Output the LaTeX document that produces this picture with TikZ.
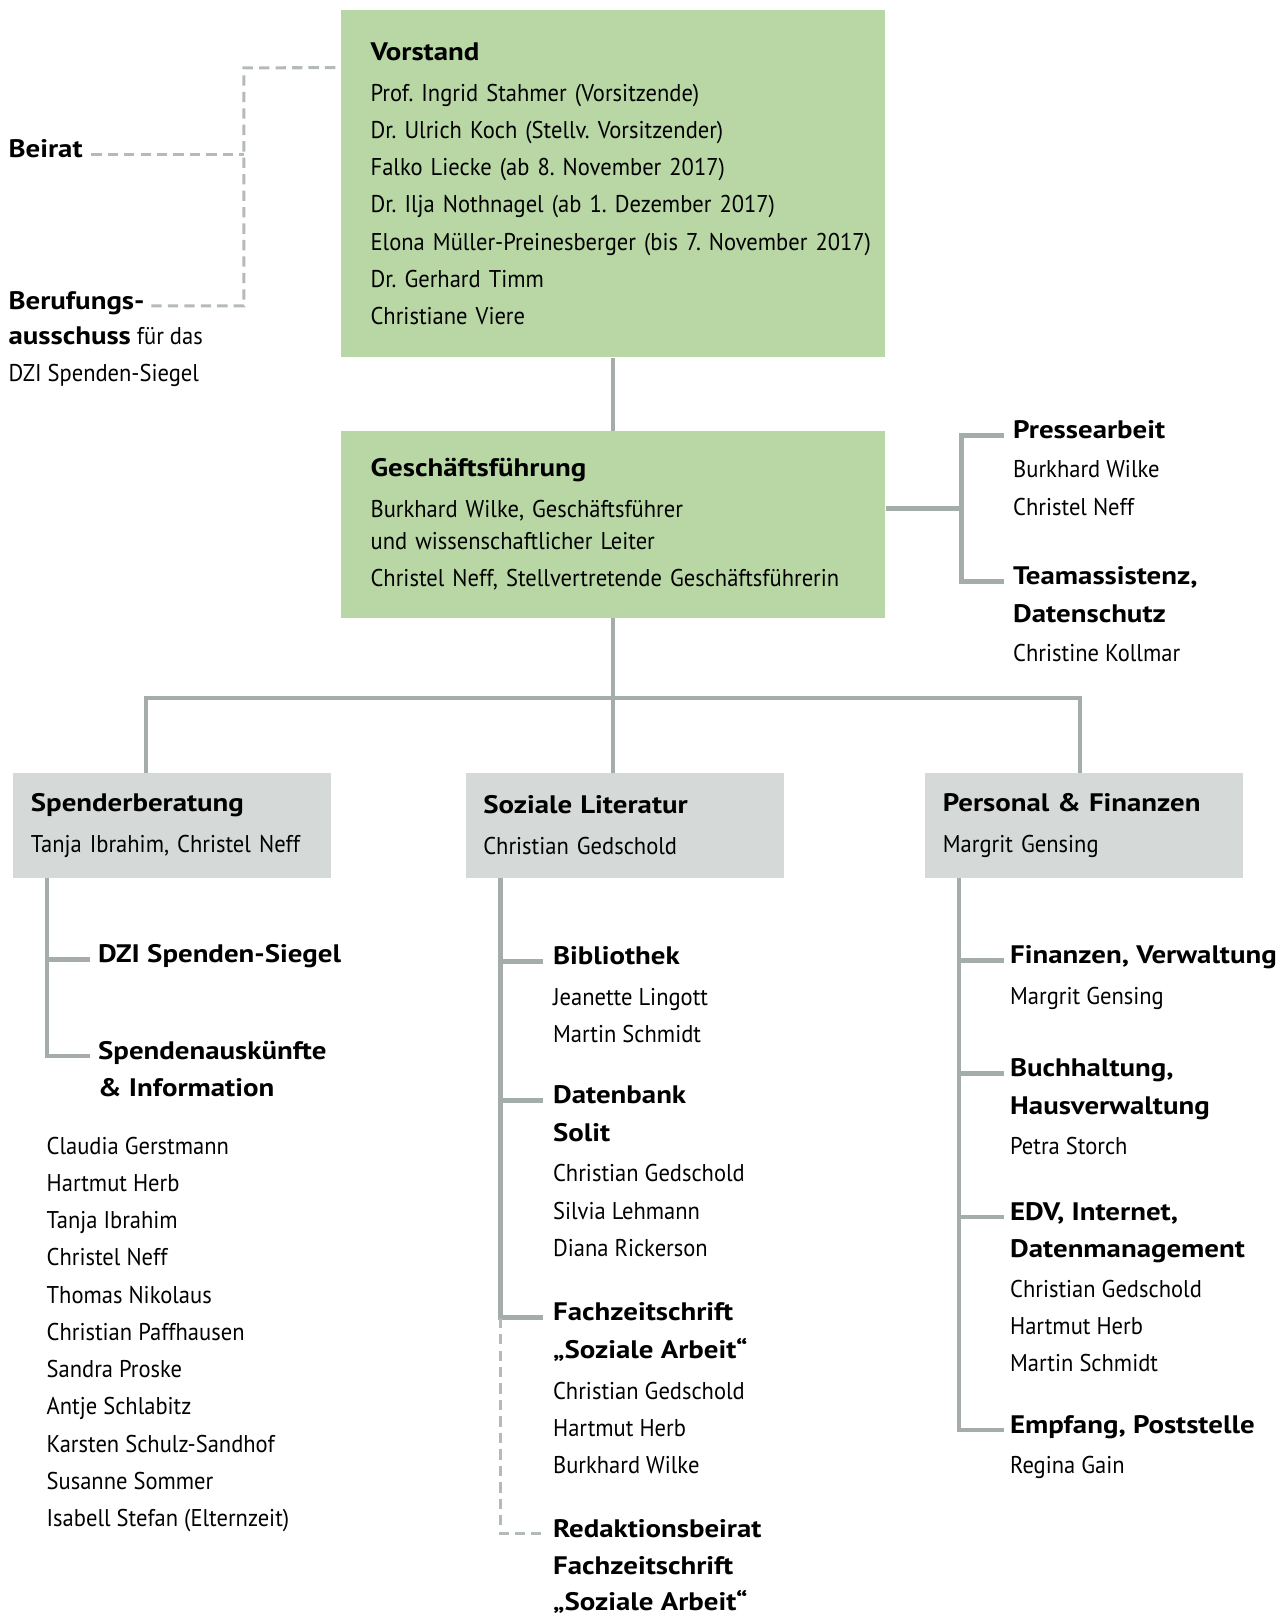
\documentclass[tikz,border=0pt]{standalone}
\usepackage{fontspec}
\setmainfont{PT Sans}[FakeStretch=0.93]
\newfontfamily\hdfont{PT Sans}[FakeStretch=1.14]
\usepackage{tikz}
\definecolor{vgreen}{HTML}{B8D7A4}
\definecolor{ugrey}{HTML}{D5D9D7}
\definecolor{lgrey}{HTML}{A4ADAA}
\definecolor{dgrey}{HTML}{B3BAB7}
\frenchspacing
\newcommand\orgfont{\fontsize{13.4pt}{20.6pt}\selectfont}
\newcommand\hd[1]{{\hdfont\bfseries\fontsize{14pt}{20.6pt}\selectfont #1}}
\tikzset{
  gbox/.style={fill=vgreen,align=left,font=\orgfont,inner xsep=0.58cm,text width=9.42cm},
  ubox/.style={fill=ugrey,align=left,font=\orgfont,inner xsep=0.34cm,text width=5.5cm,minimum height=2.04cm},
  txt/.style={anchor=north west,align=left,inner sep=0pt,font=\orgfont},
  con/.style={draw=lgrey,line width=2.5pt},
  dcon/.style={draw=dgrey,line width=1.7pt,dash pattern=on 5.7pt off 3.4pt}}

\begin{document}
\begin{tikzpicture}[x=0.02cm,y=-0.02cm]
\useasboundingbox (0,0) rectangle (1247,1568);
% Leitung
\node[gbox,minimum height=6.74cm] (vorstand) at (595.5,178.5) {\hd{Vorstand}\\[2pt]
  Prof. Ingrid Stahmer (Vorsitzende)\\Dr. Ulrich Koch (Stellv. Vorsitzender)\\
  Falko Liecke (ab 8. November 2017)\\Dr. Ilja Nothnagel (ab 1. Dezember 2017)\\
  \mbox{Elona Müller-Preinesberger (bis 7. November 2017)}\\Dr. Gerhard Timm\\Christiane Viere};
\node[gbox,minimum height=3.62cm] (gf) at (595.5,509.5) {\hd{Geschäftsführung}\\[2pt]
  Burkhard Wilke, Geschäftsführer\\[-2.8pt]und wissenschaftlicher Leiter\\
  \mbox{Christel Neff, Stellvertretende Geschäftsführerin}};
\node[ubox] (spender) at (167.5,802) {\hd{Spenderberatung}\\[2pt]\mbox{Tanja Ibrahim, Christel Neff}};
\node[ubox] (sozlit) at (607,802) {\hd{Soziale Literatur}\\[2pt]Christian Gedschold};
\node[ubox] (persfin) at (1053.5,802) {\hd{Personal \& Finanzen}\\[2pt]Margrit Gensing};
% Gremien
\node[txt] (beirat) at (8,127.6) {\strut\hd{Beirat}};
\node[txt] (beruf) at (8,274.6) {\strut\hd{Berufungs-}\\[-1pt]\hd{ausschuss} für das\\DZI Spenden-Siegel};
\node[txt] (presse) at (984,400.6) {\strut\hd{Pressearbeit}\\[1pt]Burkhard Wilke\\Christel Neff};
\node[txt] (team) at (984,542.6) {\strut\hd{Teamassistenz,}\\\hd{Datenschutz}\\[1pt]Christine Kollmar};
% Spenderberatung
\node[txt] (siegel) at (95,909.6) {\strut\hd{DZI Spenden-Siegel}};
\node[txt] (auskunft) at (95,1003.6) {\strut\hd{Spendenauskünfte}\\\hd{\& Information}};
\node[txt] (namen) at (45,1095.6) {\strut Claudia Gerstmann\\Hartmut Herb\\Tanja Ibrahim\\Christel Neff\\
  Thomas Nikolaus\\Christian Paffhausen\\Sandra Proske\\Antje Schlabitz\\
  Karsten Schulz-Sandhof\\Susanne Sommer\\Isabell Stefan (Elternzeit)};
% Soziale Literatur
\node[txt] (biblio) at (537,911.6) {\strut\hd{Bibliothek}\\[2pt]Jeanette Lingott\\[-0.5pt]Martin Schmidt};
\node[txt] (solit) at (537,1046.6) {\strut\hd{Datenbank}\\\hd{Solit}\\[2pt]Christian Gedschold\\Silvia Lehmann\\Diana Rickerson};
\node[txt] (fachz) at (537,1257.6) {\strut\hd{Fachzeitschrift}\\\hd{„Soziale Arbeit“}\\[2pt]Christian Gedschold\\Hartmut Herb\\Burkhard Wilke};
\node[txt] (redbeirat) at (537,1467.6) {\strut\hd{Redaktionsbeirat}\\\hd{Fachzeitschrift}\\[-0.5pt]\hd{„Soziale Arbeit“}};
% Personal & Finanzen
\node[txt] (finanz) at (981,910.6) {\strut\hd{Finanzen, Verwaltung}\\[2pt]Margrit Gensing};
\node[txt] (buchh) at (981,1020.6) {\strut\hd{Buchhaltung,}\\\hd{Hausverwaltung}\\[1.5pt]Petra Storch};
\node[txt] (edv) at (981,1159.6) {\strut\hd{EDV, Internet,}\\\hd{Datenmanagement}\\[1.5pt]Christian Gedschold\\Hartmut Herb\\Martin Schmidt};
\node[txt] (empfang) at (981,1366.6) {\strut\hd{Empfang, Poststelle}\\[1.5pt]Regina Gain};
% Verbindungen
\coordinate (dtop) at ([xshift=-.1cm,yshift=-1.12cm]vorstand.north west);
\coordinate (dj) at (237,66);
\coordinate (sbei) at ([xshift=.16cm,yshift=-.45cm]beirat.north east);
\coordinate (sber) at ([xshift=2.68cm,yshift=-.45cm]beruf.north west);
\draw[dcon] (dtop) -- (dj) |- (sber);
\draw[dcon] (sbei) -- (sbei -| dj);
\draw[con] (vorstand) -- (gf);
\coordinate (pj) at (934,494);
\draw[con] (gf.east |- pj) -- (pj);
\draw[con] ([xshift=-.18cm,yshift=-.45cm]presse.north west) -| (pj) |- ([xshift=-.18cm,yshift=-.45cm]team.north west);
\coordinate (busl) at (142,678);
\coordinate (busr) at (1049,678);
\draw[con] (gf) -- (gf |- sozlit.north);
\draw[con] (busl |- spender.north) |- (busr) -- (busr |- persfin.north);
\coordinate (lcol) at ([xshift=.66cm]spender.south west);
\coordinate (mcol) at ([xshift=.68cm]sozlit.south west);
\coordinate (rcol) at ([xshift=.66cm]persfin.south west);
\coordinate (slast) at ([xshift=-.16cm,yshift=-.45cm]auskunft.north west);
\draw[con] (lcol) |- (slast);
\coordinate (s) at ([xshift=-.16cm,yshift=-.45cm]siegel.north west);
\draw[con] (lcol |- s) -- (s);
\coordinate (mlast) at ([xshift=-.18cm,yshift=-.45cm]fachz.north west);
\draw[con] (mcol) |- (mlast);
\foreach \n in {biblio,solit}{
  \coordinate (s) at ([xshift=-.18cm,yshift=-.45cm]\n.north west);
  \draw[con] (mcol |- s) -- (s);}
\draw[dcon] (mlast -| mcol) |- ([xshift=-.18cm,yshift=-.45cm]redbeirat.north west);
\coordinate (rlast) at ([xshift=-.12cm,yshift=-.45cm]empfang.north west);
\draw[con] (rcol) |- (rlast);
\foreach \n in {finanz,buchh,edv}{
  \coordinate (s) at ([xshift=-.12cm,yshift=-.45cm]\n.north west);
  \draw[con] (rcol |- s) -- (s);}
\end{tikzpicture}
\end{document}
